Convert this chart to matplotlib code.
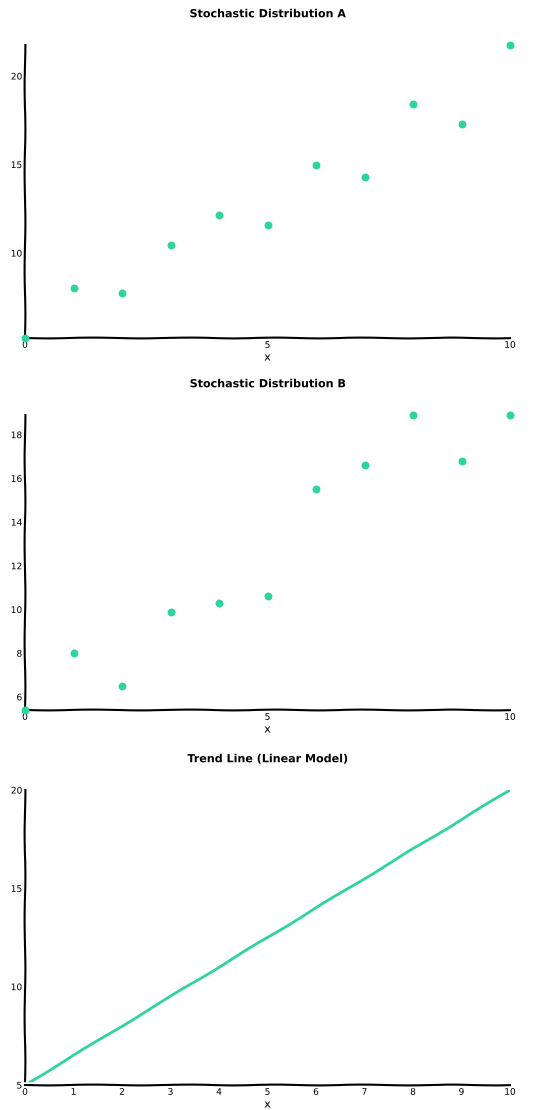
import matplotlib
matplotlib.use("Agg")
import matplotlib.pyplot as plt
import numpy as np

# data
x = list(range(11))
y_a = [5.2, 8.0, 7.75, 10.45, 12.15, 11.6, 14.95, 14.3, 18.4, 17.3, 21.75]
y_b = [5.4, 8.0, 6.5, 9.9, 10.3, 10.6, 15.5, 16.6, 18.9, 16.8, 18.9]
trend_x = [0, 10]
trend_y = [5, 20]

green = "#2fd49a"

plt.xkcd(scale=0.4, length=100, randomness=2)
plt.rcParams['font.family'] = ['DejaVu Sans']

fig = plt.figure(figsize=(5.34, 11.1), dpi=100)
H = 1110.0
W = 534.0
boxes = [(45, 338), (415, 710), (790, 1085)]
titles = ["Stochastic Distribution A", "Stochastic Distribution B", "Trend Line (Linear Model)"]
axs = [fig.add_axes([25 / W, 1 - b / H, 485 / W, (b - t) / H]) for t, b in boxes]

axs[0].scatter(x, y_a, color=green, s=22, zorder=3, clip_on=False)
axs[0].set_ylim(5.2, 21.75)
axs[0].set_yticks([10, 15, 20])

axs[1].scatter(x, y_b, color=green, s=22, zorder=3, clip_on=False)
axs[1].set_ylim(5.4, 18.9)
axs[1].set_yticks([6, 8, 10, 12, 14, 16, 18])

tx = np.linspace(trend_x[0], trend_x[1], 50)
axs[2].plot(tx, np.interp(tx, trend_x, trend_y), color=green, lw=2)
axs[2].set_ylim(5, 20)
axs[2].set_yticks([5, 10, 15, 20])
axs[2].set_xticks(range(11))

for ax, t in zip(axs, titles):
    ax.set_xlim(0, 10)
    if ax is not axs[2]:
        ax.set_xticks([0, 5, 10])
    ax.spines['top'].set_visible(False)
    ax.spines['right'].set_visible(False)
    ax.tick_params(labelsize=6.5, length=0, pad=2)
    ax.set_xlabel("x", fontsize=8, labelpad=2)
    ax.set_title(t, fontsize=8, fontweight='bold', pad=20)

fig.savefig("out.png", dpi=100)
